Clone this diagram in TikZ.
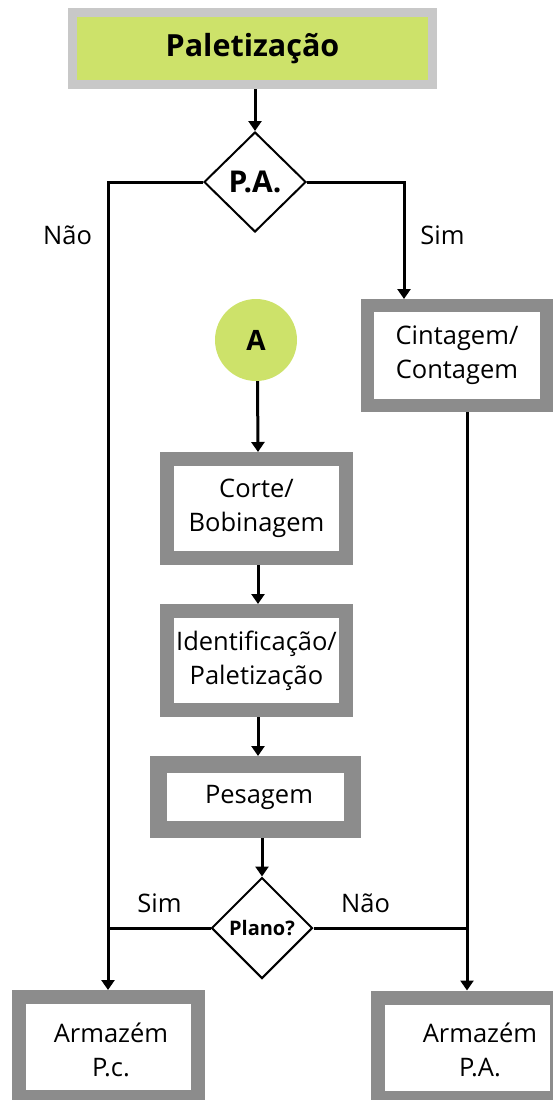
\documentclass[tikz,border=0pt]{standalone}
\usepackage{fontspec}
\setmainfont{Open Sans}
\usetikzlibrary{shapes.geometric,arrows.meta}
\definecolor{lime}{RGB}{205,226,106}
\definecolor{boxgray}{RGB}{140,140,140}
\definecolor{framegray}{RGB}{200,200,200}
\tikzset{
  txt/.style={font=\fontsize{25.5}{34}\selectfont, align=center, inner sep=0pt},
  procbox/.style={txt, draw=boxgray, line width=14pt, fill=white,
    minimum width=179pt, minimum height=99pt},
  decision/.style={diamond, draw=black, line width=2pt, fill=white, inner sep=0pt,
    font=\bfseries},
  flow/.style={line width=3pt, -{Triangle[width=13pt,length=10pt]}},
  link/.style={line width=3pt},
}
\begin{document}
\begin{tikzpicture}[x=1pt,y=-1pt]
\useasboundingbox (0,0) rectangle (553,1100);
\clip (0,0) rectangle (553,1100);

% title block
\node[draw=framegray, line width=9pt, fill=lime, minimum width=360pt,
      minimum height=72pt, inner sep=0pt, font=\fontsize{30.5}{36}\selectfont\bfseries]
      (title) at (252.5,48.5) {Paletização};

% first decision
\node[decision, minimum width=102pt, minimum height=100pt,
      font=\fontsize{30}{36}\selectfont\bfseries] (pa) at (255,182) {P.A.};

% connector circle
\node[circle, fill=lime, minimum size=82pt, inner sep=0pt,
      font=\fontsize{28}{32}\selectfont\bfseries] (a) at (256,340) {A};

% process steps
\node[procbox, minimum height=100pt, line width=13pt] (cint) at (457,355.5) {Cintagem/\\Contagem};
\node[procbox] (corte) at (256.5,508.5) {Corte/\\Bobinagem};
\node[procbox] (ident) at (256.5,660.5) {Identificação/\\Paletização};
\node[procbox, line width=17pt, minimum width=194pt, minimum height=65pt] (pes) at (255.5,797) {\hspace*{7pt}Pesagem};

% second decision
\node[decision, minimum width=101pt, minimum height=101pt,
      font=\fontsize{20}{24}\selectfont\bfseries] (plano) at (262,928) {Plano?};

% storage boxes
\node[procbox, minimum height=100pt] (pc) at (108,1047) {};
\node[txt] (pctext) at (111,1049.5) {Armazém\\P.c.};
\node[procbox, minimum height=100pt] (pabox) at (467,1047.5) {};
\node[txt] (patext) at (480,1049.5) {Armazém\\P.A.};

% branch labels
\node[txt] (nao1) at (67.5,235) {Não};
\node[txt] (sim1) at (442.5,235) {Sim};
\node[txt] (sim2) at (159.5,903) {Sim};
\node[txt] (nao2) at (365.5,903) {Não};

% connectors
\coordinate (cintin) at ([xshift=-53pt]cint.north);
\draw[flow] (pa.north |- title.south) -- (pa.north);
\draw[flow] (pa.west) -| (pc.north);
\draw[flow] (pa.east) -| (cintin);
\draw[flow] (cint.south -| pabox.north) -- (pabox.north);
\draw[flow] ([xshift=1.5pt]a.south) -- ([xshift=1.5pt]corte.north);
\draw[flow] ([xshift=1.5pt]corte.south) -- ([xshift=1.5pt]ident.north);
\draw[flow] ([xshift=1.5pt]ident.south) -- ([xshift=1.5pt]ident.south |- pes.north);
\draw[flow] (plano.north |- pes.south) -- (plano.north);
\draw[link] (plano.west) -- (plano.west -| pc.north);
\draw[link] (plano.east) -- (plano.east -| pabox.north);
\end{tikzpicture}
\end{document}
